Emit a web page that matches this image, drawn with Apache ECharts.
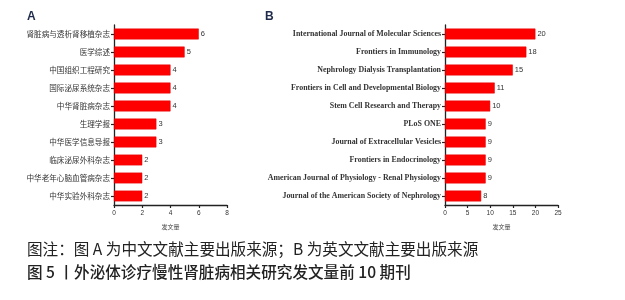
<!DOCTYPE html>
<html><head><meta charset="utf-8">
<script src="https://cdn.jsdelivr.net/npm/echarts@6/dist/echarts.min.js"></script>
<style>html,body{margin:0;padding:0;background:#fff}#c{width:625px;height:300px}</style>
</head><body><div id="c"></div>
<script>
const catA = ['肾脏病与透析肾移植杂志','医学综述','中国组织工程研究','国际泌尿系统杂志','中华肾脏病杂志','生理学报','中华医学信息导报','临床泌尿外科杂志','中华老年心脑血管病杂志','中华实验外科杂志'];
const valA = [6,5,4,4,4,3,3,2,2,2];
const catB = ['International Journal of Molecular Sciences','Frontiers in Immunology','Nephrology Dialysis Transplantation','Frontiers in Cell and Developmental Biology','Stem Cell Research and Therapy','PLoS ONE','Journal of Extracellular Vesicles','Frontiers in Endocrinology','American Journal of Physiology - Renal Physiology','Journal of the American Society of Nephrology'];
const valB = [20,18,15,11,10,9,9,9,9,8];
const ticksA = {min:0,max:8,interval:2};
const ticksB = {min:0,max:25,interval:5};
const axisTitle = '发文量';
const caption1 = '图注：图 A 为中文文献主要出版来源；B 为英文文献主要出版来源';
const caption2 = '图 5 丨外泌体诊疗慢性肾脏病相关研究发文量前 10 期刊';

const chart = echarts.init(document.getElementById('c'));
const axLine = {show:true, lineStyle:{color:'#222', width:1.3}};
function xAx(idx, t){
  return {gridIndex:idx, type:'value', min:t.min, max:t.max, interval:t.interval,
    axisLine:axLine, axisTick:{show:true, inside:false, length:3, lineStyle:{color:'#222',width:1.2}},
    splitLine:{show:false}, axisLabel:{fontSize:6.5, color:'#333', margin:5, fontFamily:'Liberation Sans'},
    name:axisTitle, nameLocation:'middle', nameGap:19, nameTextStyle:{fontSize:6, color:'#444', fontFamily:'Noto Sans CJK SC'}};
}
function yAx(idx, cats, font, fsz, bold){
  return {gridIndex:idx, type:'category', data:cats, inverse:true,
    axisLine:axLine, axisTick:{show:true, length:3, alignWithLabel:true, lineStyle:{color:'#222',width:1.2}},
    axisLabel:{fontSize:fsz, color:'#333', margin:4, fontFamily:font, fontWeight:bold?'bold':'normal'}};
}
function ser(idx, vals){
  return {type:'bar', xAxisIndex:idx, yAxisIndex:idx, data:vals, barCategoryGap:'40%',
    itemStyle:{color:'#ff0000', borderColor:'#e00000', borderWidth:0.5},
    label:{show:true, position:'right', distance:2, fontSize:7.5, color:'#333', fontFamily:'Liberation Sans'}};
}
chart.setOption({
  animation:false,
  grid:[{left:114, top:25, width:113, height:180},{left:445, top:25, width:113, height:180}],
  xAxis:[xAx(0,ticksA), xAx(1,ticksB)],
  yAxis:[yAx(0,catA,'Noto Sans CJK SC',7.6,false), yAx(1,catB,'Liberation Serif',7.9,true)],
  series:[ser(0,valA), ser(1,valB)],
  graphic:[
    {type:'text', left:27, top:11, style:{text:'A', font:'bold 12px Liberation Sans', fill:'#1e2a4a'}},
    {type:'text', left:265, top:11, style:{text:'B', font:'bold 12px Liberation Sans', fill:'#1e2a4a'}},
    {type:'text', left:27, top:241, style:{text:caption1, font:'15.6px "Noto Sans CJK SC"', fill:'#222'}},
    {type:'text', left:27, top:264, style:{text:caption2, font:'500 15.6px "Noto Sans CJK SC"', fill:'#222'}}
  ]
});
</script></body></html>
